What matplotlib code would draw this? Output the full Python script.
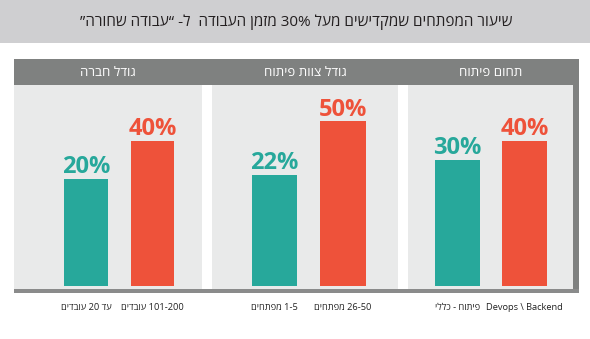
import re
import matplotlib
matplotlib.use("Agg")
import matplotlib.pyplot as plt
from matplotlib.patches import Rectangle

# ---- data (left-to-right panel order) ----
panel_titles = ['גודל חברה', 'גודל צוות פיתוח', 'תחום פיתוח']
teal_labels = ['עד 20 עובדים', '1-5 מפתחים', 'פיתוח - כללי']
red_labels = ['101-200 עובדים', '26-50 מפתחים', 'Devops \\ Backend']
teal_values = [20, 22, 30]
red_values = [40, 50, 40]
title = 'שיעור המפתחים שמקדישים מעל 30% מזמן העבודה  ל- “עבודה שחורה”'

FONT = ['Open Sans', 'DejaVu Sans']
plt.rcParams['font.family'] = FONT

TEAL = '#27a89b'
RED = '#ee523a'
PANEL = '#e9eaea'
HEADER = '#7f8180'
BAND = '#cfcfd1'


def vis(s):
    """Logical RTL string -> visual order for left-to-right rendering."""
    toks = re.findall(r'[A-Za-z0-9][A-Za-z0-9%\\\-./ ]*[A-Za-z0-9%]|[A-Za-z0-9]|[^A-Za-z0-9]', s)
    return ''.join(reversed(toks))


W, H = 590, 339
fig = plt.figure(figsize=(W / 100, H / 100), dpi=100)
fig.patch.set_facecolor('white')


def frac(x0, y0, x1, y1):
    return [x0 / W, 1 - y1 / H, (x1 - x0) / W, (y1 - y0) / H]


def frect(x0, y0, x1, y1, color, z=0):
    l, b, w, h = frac(x0, y0, x1, y1)
    fig.patches.append(Rectangle((l, b), w, h, transform=fig.transFigure,
                                 facecolor=color, edgecolor='none', zorder=z))


# title band
frect(0, 0, W, 43, BAND)
fig.text(296 / W, 1 - 22 / H, vis(title), ha='center', va='center',
         fontsize=11, color='#231f20')

# header bar, right border, bottom line
frect(14, 59, 579, 85, HEADER)
frect(573, 85, 579, 293, HEADER)
frect(14, 289, 579, 293, '#8a8b8b')

panel_px = [(14, 202), (212, 398), (408, 573)]
xlims = [(-1.083, 1.744), (-0.912, 1.803), (-0.739, 1.724)]
BASE = -36
YLIM = (-37.5, 69.0)

for i in range(3):
    x0, x1 = panel_px[i]
    ax = fig.add_axes(frac(x0, 85, x1, 289))
    ax.set_facecolor(PANEL)
    for sp in ax.spines.values():
        sp.set_visible(False)
    vals = [teal_values[i], red_values[i]]
    cols = [TEAL, RED]
    pos = [0, 1]
    ax.bar(pos, [v - BASE for v in vals], bottom=BASE, width=0.66,
           color=cols, edgecolor='none')
    for p, v, c in zip(pos, vals, cols):
        ax.annotate(f'{v}%', (p, v), xytext=(0, 4), textcoords='offset points',
                    ha='center', va='baseline', fontsize=17, fontweight='bold',
                    color=c)
    ax.set_xlim(*xlims[i])
    ax.set_ylim(*YLIM)
    ax.set_yticks([])
    ax.set_xticks(pos)
    ax.set_xticklabels([vis(teal_labels[i]), vis(red_labels[i])],
                       fontsize=6.7, color='#222222')
    ax.tick_params(axis='x', length=0, pad=10)
    fig.text(((x0 + x1) / 2) / W, 1 - 72 / H, vis(panel_titles[i]),
             ha='center', va='center', fontsize=9.5, color='white')

fig.savefig('out.png', dpi=100)
